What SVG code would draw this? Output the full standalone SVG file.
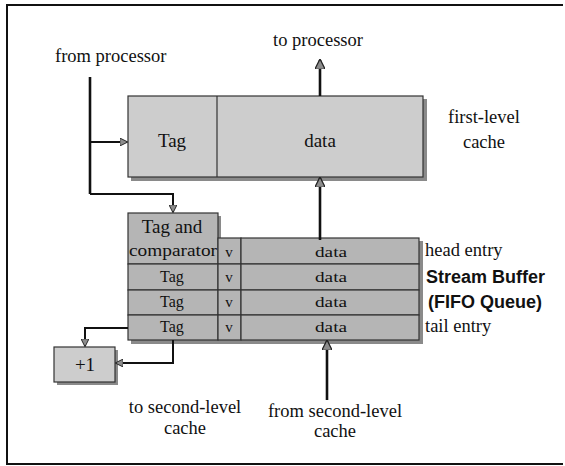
<svg xmlns="http://www.w3.org/2000/svg" width="565" height="466" viewBox="0 0 565 466">
<style>
text{font-family:"Liberation Serif","Times New Roman",serif;fill:#111}
.t{font-size:18.5px}
.c{font-size:15px;text-anchor:middle}
.b{font-family:"Liberation Sans",Arial,sans-serif;font-weight:bold;font-size:18px}
.cache{fill:#cdcdcd;stroke:#333;stroke-width:1.2}
.buf{fill:#b5b5b5;stroke:#333;stroke-width:1.2}
.sh{fill:#8a8a8a}
.ln{fill:none;stroke:#111;stroke-width:2.6}
.ar{fill:none;stroke:#111;stroke-width:2.6;marker-end:url(#ah)}
</style>
<defs>
<marker id="ah" viewBox="0 0 10 10" refX="9" refY="5" markerWidth="4" markerHeight="4" orient="auto" markerUnits="strokeWidth">
<path d="M0,0 L10,5 L0,10 Z" fill="#8c8c8c" stroke="#222" stroke-width="1.2"/>
</marker>
</defs>
<rect width="565" height="466" fill="#fff"/>
<path d="M563,5 H7 V464 H563" fill="none" stroke="#111" stroke-width="2"/>

<g id="first-level-cache">
<rect class="sh" x="131" y="99" width="296" height="82"/>
<rect class="cache" x="128" y="96" width="295" height="81"/>
<line x1="217" y1="96" x2="217" y2="177" stroke="#333" stroke-width="1.2"/>
<text class="c" x="172" y="147" style="font-size:19px">Tag</text>
<text class="c" x="320" y="147" style="font-size:19px">data</text>
<text class="t" x="448" y="123">first-level</text>
<text class="t" x="484" y="148" text-anchor="middle">cache</text>
</g>

<g id="stream-buffer">
<rect class="sh" x="131" y="241" width="292" height="103"/>
<rect class="sh" x="131" y="216" width="90" height="30"/>
<rect class="buf" x="128" y="213" width="90" height="51"/>
<rect class="buf" x="218" y="238" width="23" height="26"/>
<rect class="buf" x="241" y="238" width="178" height="26"/>
<rect class="buf" x="128" y="264" width="90" height="26"/>
<rect class="buf" x="218" y="264" width="23" height="26"/>
<rect class="buf" x="241" y="264" width="178" height="26"/>
<rect class="buf" x="128" y="290" width="90" height="25"/>
<rect class="buf" x="218" y="290" width="23" height="25"/>
<rect class="buf" x="241" y="290" width="178" height="25"/>
<rect class="buf" x="128" y="315" width="90" height="25"/>
<rect class="buf" x="218" y="315" width="23" height="25"/>
<rect class="buf" x="241" y="315" width="178" height="25"/>
<text class="c" x="172" y="233" style="font-size:19px">Tag and</text>
<text class="c" x="173" y="256" textLength="88" lengthAdjust="spacingAndGlyphs" style="font-size:16px">comparator</text>
<text class="c" x="172" y="282" style="font-size:16px">Tag</text>
<text class="c" x="172" y="307" style="font-size:16px">Tag</text>
<text class="c" x="172" y="332" style="font-size:16px">Tag</text>
<text class="c" x="229" y="257">v</text>
<text class="c" x="229" y="282">v</text>
<text class="c" x="229" y="307">v</text>
<text class="c" x="229" y="332">v</text>
<text class="c" x="331" y="257" textLength="32" lengthAdjust="spacingAndGlyphs">data</text>
<text class="c" x="331" y="282" textLength="32" lengthAdjust="spacingAndGlyphs">data</text>
<text class="c" x="331" y="307" textLength="32" lengthAdjust="spacingAndGlyphs">data</text>
<text class="c" x="331" y="332" textLength="32" lengthAdjust="spacingAndGlyphs">data</text>
<text class="t" x="425" y="256">head entry</text>
<text class="b" x="426" y="283">Stream Buffer</text>
<text class="b" x="428" y="308">(FIFO Queue)</text>
<text class="t" x="425" y="332">tail entry</text>
</g>

<g id="incrementer">
<rect class="sh" x="57" y="350" width="61" height="35"/>
<rect class="cache" x="54" y="347" width="61" height="35"/>
<text class="c" x="85" y="371" style="font-size:19px">+1</text>
</g>

<g id="labels">
<text class="t" x="55" y="62">from processor</text>
<text class="t" x="318" y="46" text-anchor="middle">to processor</text>
<text class="t" x="185" y="413" text-anchor="middle">to second-level</text>
<text class="t" x="185" y="434" text-anchor="middle">cache</text>
<text class="t" x="335" y="417" text-anchor="middle">from second-level</text>
<text class="t" x="335" y="437" text-anchor="middle">cache</text>
</g>

<g id="connectors">
<path class="ln" d="M90,77 V194"/>
<path class="ar" d="M90,142 H127" style="stroke-width:2"/>
<path class="ar" d="M90,194 H173 V212" style="stroke-width:2"/>
<path class="ar" d="M320,96 V60"/>
<path class="ar" d="M320,240 V178"/>
<path class="ar" d="M327,400 V341"/>
<path class="ar" d="M128,328 H85 V346" style="stroke-width:2"/>
<path class="ar" d="M173,340 V363 H116" style="stroke-width:2"/>
</g>
</svg>
